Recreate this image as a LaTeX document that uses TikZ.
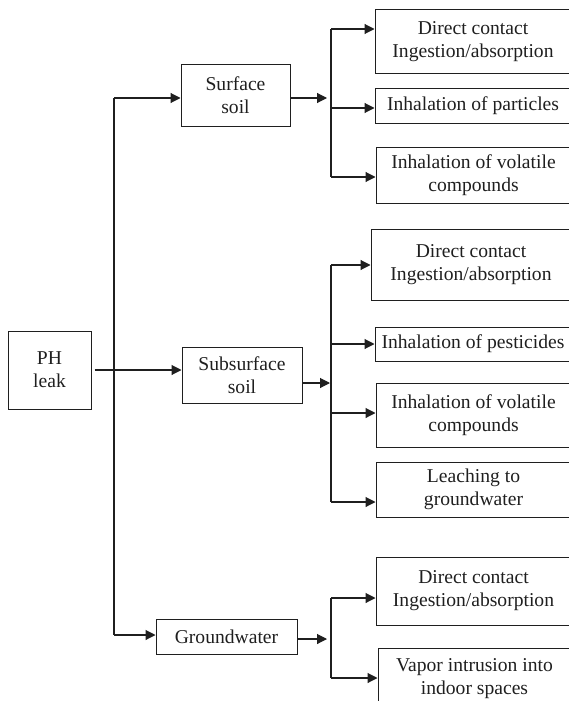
\documentclass[tikz,border=0pt]{standalone}
\usepackage{fontspec}
\setmainfont{Liberation Serif}
\usetikzlibrary{arrows.meta}
\begin{document}
\begin{tikzpicture}[x=1pt,y=-1pt,
  box/.style={draw=black!88,line width=1pt,inner sep=0pt,align=center,
    font=\fontsize{19.6}{23}\selectfont,text=black!88},
  arr/.style={draw=black!88,line width=1.1pt,-{Triangle[length=10pt,width=10pt]}},
  ln/.style={draw=black!88,line width=1.1pt}]
\useasboundingbox (0,0) rectangle (569,701);
\clip (0,0) rectangle (569,701);
% left side
\node[box,minimum width=83pt,minimum height=78pt] (ph) at (49.5,370) {PH\\leak};
\node[box,minimum width=109pt,minimum height=61pt] (ss) at (235.5,95.5) {Surface\\soil};
\node[box,minimum width=120pt,minimum height=56pt] (sub) at (242,375) {Subsurface\\soil};
\node[box,minimum width=141pt,minimum height=35pt] (gw) at (226.5,636.5) {Groundwater};
% right boxes
\node[box,minimum width=196pt,minimum height=63pt] (a1) at (473,41.5) {Direct contact\\Ingestion/absorption};
\node[box,minimum width=196pt,minimum height=35pt] (a2) at (473,105.5) {Inhalation of particles};
\node[box,minimum width=195pt,minimum height=56pt] (a3) at (473.5,175) {Inhalation of volatile\\compounds};
\node[box,minimum width=200pt,minimum height=71pt] (b1) at (471,264.5) {Direct contact\\Ingestion/absorption};
\node[box,minimum width=196pt,minimum height=34pt] (b2) at (473,344) {Inhalation of pesticides};
\node[box,minimum width=195pt,minimum height=64pt] (b3) at (473.5,415) {Inhalation of volatile\\compounds};
\node[box,minimum width=195pt,minimum height=55pt] (b4) at (473.5,489.5) {Leaching to\\groundwater};
\node[box,minimum width=195pt,minimum height=68pt] (c1) at (473.5,591) {Direct contact\\Ingestion/absorption};
\node[box,minimum width=193pt,minimum height=62pt] (c2) at (474.5,679) {Vapor intrusion into\\indoor spaces};
% trunk
\coordinate (t1) at (114,98);
\coordinate (t2) at (114,635);
\draw[ln] (t1) -- (t2);
\draw[arr] (t1) -- (ss.west |- t1);
\draw[arr] (t2) -- (gw.west |- t2);
\draw[arr,shorten <=3pt] (ph.east) -- (sub.west |- ph.east);
% surface soil branch
\coordinate (sa) at (327,98);
\draw[arr] (ss.east |- sa) -- (sa);
\coordinate (s1) at (331,29);
\coordinate (s2) at (331,108);
\coordinate (s3) at (331,177);
\draw[ln] (s1) -- (s3);
\draw[arr] (s1) -- (a1.west |- s1);
\draw[arr] (s2) -- (a2.west |- s2);
\draw[arr] (s3) -- (a3.west |- s3);
% subsurface branch
\coordinate (sb) at (330,383);
\draw[arr] (sub.east |- sb) -- (sb);
\coordinate (u1) at (331,265);
\coordinate (u2) at (331,344);
\coordinate (u3) at (331,413);
\coordinate (u4) at (331,502);
\draw[ln] (u1) -- (u4);
\draw[arr] (u1) -- (b1.west |- u1);
\draw[arr] (u2) -- (b2.west |- u2);
\draw[arr] (u3) -- (b3.west |- u3);
\draw[arr] (u4) -- (b4.west |- u4);
% groundwater branch
\coordinate (sc) at (327,639);
\draw[arr] (gw.east |- sc) -- (sc);
\coordinate (g1) at (331,598);
\coordinate (g2) at (331,678);
\draw[ln] (g1) -- (g2);
\draw[arr] (g1) -- (c1.west |- g1);
\draw[arr] (g2) -- (c2.west |- g2);
\end{tikzpicture}
\end{document}
